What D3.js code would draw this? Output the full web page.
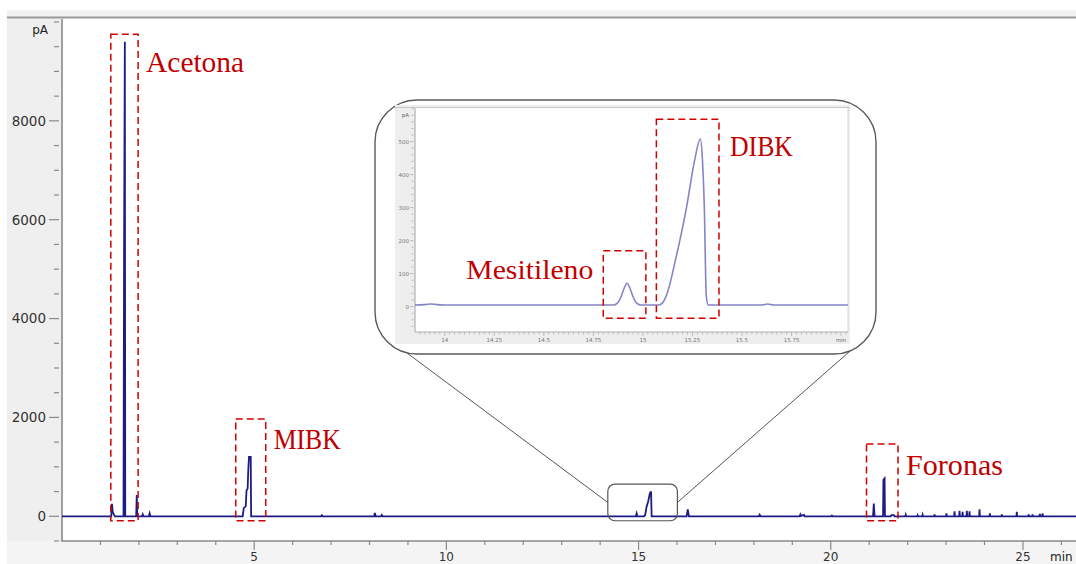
<!DOCTYPE html>
<html>
<head>
<meta charset="utf-8">
<script src="https://cdn.jsdelivr.net/npm/d3@7"></script>
<style>
  html, body { margin: 0; padding: 0; background: #fff; }
  svg { display: block; }
</style>
</head>
<body>
<svg id="chart" width="1076" height="564"></svg>
<script>
// ---- Data ---------------------------------------------------------------
// Full chromatogram: [retention time (min), detector signal (pA)]
const mainTrace = [
  [0, 0], [1.28, 0], [1.30, 250], [1.32, 90], [1.35, 30], [1.38, 0],
  [1.60, 0], [1.615, 5350], [1.635, 9600], [1.645, 0],
  [1.93, 0], [1.945, 430], [1.96, 0],
  [2.08, 0], [2.10, 40], [2.12, 0], [2.26, 0], [2.28, 60], [2.30, 0],
  [4.70, 0], [4.73, 170], [4.78, 200], [4.80, 520], [4.83, 560], [4.845, 910],
  [4.865, 1200], [4.91, 1200], [4.92, 0],
  [6.74, 0], [6.76, 20], [6.78, 0],
  [8.12, 0], [8.14, 70], [8.16, 0], [8.30, 0], [8.32, 25], [8.34, 0],
  [14.93, 0], [14.95, 60], [14.97, 0],
  [15.14, 0], [15.17, 20], [15.21, 200], [15.25, 300], [15.29, 450], [15.31, 490],
  [15.325, 490], [15.34, 0],
  [16.25, 0], [16.28, 140], [16.31, 0],
  [18.13, 0], [18.15, 30], [18.17, 0],
  [19.19, 0], [19.21, 40], [19.23, 10], [19.30, 30], [19.32, 0],
  [20.01, 0], [20.03, 15], [20.05, 0],
  [21.10, 0], [21.12, 260], [21.14, 0],
  [21.36, 0], [21.37, 740], [21.40, 770], [21.41, 0],
  [21.56, 0], [21.58, 25], [21.64, 25], [21.66, 0],
  [21.94, 0], [21.95, 30], [21.96, 0], [22.25, 0], [22.26, 20], [22.27, 0],
  [22.38, 0], [22.39, 30], [22.40, 0], [22.69, 0], [22.70, 40], [22.71, 0],
  [23.00, 0], [23.01, 60], [23.02, 0], [23.21, 0], [23.22, 100], [23.23, 0],
  [23.34, 0], [23.35, 110], [23.36, 0], [23.42, 0], [23.43, 90], [23.44, 0],
  [23.53, 0], [23.54, 110], [23.55, 0], [23.60, 0], [23.61, 100], [23.62, 0],
  [23.86, 0], [23.87, 140], [23.88, 0], [24.13, 0], [24.14, 60], [24.15, 0],
  [24.44, 0], [24.45, 40], [24.46, 0], [24.83, 0], [24.84, 90], [24.85, 0],
  [25.14, 0], [25.15, 40], [25.16, 0], [25.24, 0], [25.25, 40], [25.26, 0],
  [25.43, 0], [25.44, 50], [25.45, 0], [25.50, 0], [25.51, 60], [25.52, 0],
  [26.4, 0]
];
const mainYTicks = [0, 2000, 4000, 6000, 8000];
const mainXTicks = [5, 10, 15, 20, 25];

// Expanded view of the 14–16 min window: [time (min), signal (pA)]
const insetTrace = [
  [13.85, 5], [13.90, 6], [13.93, 8], [13.96, 6], [14.00, 5], [14.85, 5],
  [14.87, 10], [14.89, 30], [14.905, 55], [14.92, 71], [14.935, 55], [14.95, 30],
  [14.97, 10], [14.99, 5], [15.08, 5], [15.10, 12], [15.12, 36], [15.17, 156],
  [15.22, 300], [15.26, 440], [15.29, 508], [15.30, 450], [15.31, 300],
  [15.32, 30], [15.33, 5], [15.60, 5], [15.63, 8], [15.66, 5], [16.035, 5]
];
const insetYTicks = [0, 100, 200, 300, 400, 500];
const insetXTicks = [14, 14.25, 14.5, 14.75, 15, 15.25, 15.5, 15.75];

// Annotated peaks: name, time window (min), signal window (pA)
const mainPeakNames = ["Acetona", "MIBK", "Foronas"];
const mainPeakWindows = [[1.27, 1.98], [4.52, 5.30], [20.93, 21.75]];
const mainPeakBoxTops = [9750, 1970, 1460];
const insetPeakNames = ["Mesitileno", "DIBK"];
const insetPeakWindows = [[14.80, 15.015], [15.068, 15.384]];
const insetPeakBoxTops = [169, 568];

// Region of the full run shown in the expanded view
const zoomWindow = [14.20, 16.01];
const zoomSignal = [-90, 650];

// ---- Layout -------------------------------------------------------------
const svg = d3.select("#chart");
const W = 1076, H = 564;
const plot = { left: 62, right: 1076, top: 22, bottom: 541 };

const x = d3.scaleLinear().domain([0, 26.38]).range([plot.left, plot.right]);
const y = d3.scaleLinear().domain([-500, 10000]).range([plot.bottom, plot.top]);

const navy = "#1c1c86";
const red = "#d10000";
const axisGrey = "#8a8a8a";
const labelGrey = "#333";

// Window frame
svg.append("rect").attr("x", 0).attr("y", 0).attr("width", W).attr("height", H).attr("fill", "#fff");
svg.append("rect").attr("x", 7).attr("y", 10).attr("width", W - 7).attr("height", 7).attr("fill", "#f1f1f1");
svg.append("rect").attr("x", 7).attr("y", 17).attr("width", plot.left - 7).attr("height", H - 17).attr("fill", "#efefef");
svg.append("rect").attr("x", 7).attr("y", plot.bottom).attr("width", W - 7).attr("height", H - plot.bottom).attr("fill", "#f4f4f4");
svg.append("line").attr("x1", 7).attr("x2", W).attr("y1", 17.5).attr("y2", 17.5)
  .attr("stroke", "#9a9a9a").attr("stroke-width", 2);

// Y axis
svg.append("line").attr("x1", plot.left).attr("x2", plot.left)
  .attr("y1", 19).attr("y2", plot.bottom)
  .attr("stroke", "#a0a0a0").attr("stroke-width", 2);
const yMinor = d3.range(-500, 10001, 500);
svg.append("g").selectAll("line").data(yMinor).join("line")
  .attr("x1", d => mainYTicks.includes(d) ? 49 : 54).attr("x2", 59)
  .attr("y1", d => y(d)).attr("y2", d => y(d))
  .attr("stroke", axisGrey).attr("stroke-width", 1.2);
svg.append("g").selectAll("text").data(mainYTicks).join("text")
  .attr("x", 46).attr("y", d => y(d)).attr("dy", "0.36em")
  .attr("text-anchor", "end")
  .attr("font-family", "DejaVu Sans, sans-serif").attr("font-size", 13.5)
  .attr("fill", labelGrey).text(d => d);
svg.append("text").attr("x", 48).attr("y", 34).attr("text-anchor", "end")
  .attr("font-family", "DejaVu Sans, sans-serif").attr("font-size", 12)
  .attr("fill", "#222").text("pA");

// X axis
svg.append("line").attr("x1", plot.left - 1).attr("x2", W)
  .attr("y1", plot.bottom).attr("y2", plot.bottom)
  .attr("stroke", axisGrey).attr("stroke-width", 1.5);
const xMinor = d3.range(1, 27, 1);
svg.append("g").selectAll("line").data(xMinor).join("line")
  .attr("x1", d => x(d)).attr("x2", d => x(d))
  .attr("y1", plot.bottom).attr("y2", d => mainXTicks.includes(d) ? 550 : 545)
  .attr("stroke", axisGrey).attr("stroke-width", 1.2);
svg.append("g").selectAll("text").data(mainXTicks).join("text")
  .attr("x", d => x(d)).attr("y", 560.5).attr("text-anchor", "middle")
  .attr("font-family", "DejaVu Sans, sans-serif").attr("font-size", 12)
  .attr("fill", labelGrey).text(d => d);
svg.append("text").attr("x", 1050).attr("y", 560.5)
  .attr("font-family", "DejaVu Sans, sans-serif").attr("font-size", 12)
  .attr("fill", "#222").text("min");

// Chromatogram
const mainLine = d3.line().x(d => x(d[0])).y(d => y(d[1]));
svg.append("path").datum(mainTrace).attr("d", mainLine)
  .attr("fill", "none").attr("stroke", navy).attr("stroke-width", 1.8)
  .attr("stroke-linejoin", "miter");

// Dashed boxes and names for the main peaks
const boxBottom = -90;
const mainLabelOffsets = [38, 30, 31];
const mainLabelWidths = [98, 67, 97];
mainPeakNames.forEach((name, i) => {
  const [t0, t1] = mainPeakWindows[i];
  const top = y(mainPeakBoxTops[i]);
  svg.append("rect")
    .attr("x", x(t0)).attr("y", top)
    .attr("width", x(t1) - x(t0)).attr("height", y(boxBottom) - top)
    .attr("fill", "none").attr("stroke", red).attr("stroke-width", 1.5)
    .attr("stroke-dasharray", "7,4");
  svg.append("text")
    .attr("x", x(t1) + 8).attr("y", top + mainLabelOffsets[i])
    .attr("font-family", "Liberation Serif, serif").attr("font-size", 29)
    .attr("textLength", mainLabelWidths[i]).attr("lengthAdjust", "spacingAndGlyphs")
    .attr("fill", "#c00000").text(name);
});

// Small frame marking the expanded region
const zx0 = x(zoomWindow[0]), zx1 = x(zoomWindow[1]);
const zy0 = y(zoomSignal[1]), zy1 = y(zoomSignal[0]);
svg.append("rect").attr("x", zx0).attr("y", zy0)
  .attr("width", zx1 - zx0).attr("height", zy1 - zy0)
  .attr("rx", 7).attr("ry", 7)
  .attr("fill", "none").attr("stroke", "#555").attr("stroke-width", 1.2);

// Expanded view panel
const inset = { x: 375, y: 100, w: 501, h: 254, r: 42 };
const zMid = (zy0 + zy1) / 2;
svg.append("line").attr("x1", zx0).attr("y1", zMid)
  .attr("x2", inset.x + 32).attr("y2", inset.y + inset.h - 1)
  .attr("stroke", "#555").attr("stroke-width", 1);
svg.append("line").attr("x1", zx1).attr("y1", zMid)
  .attr("x2", inset.x + inset.w - 27).attr("y2", inset.y + inset.h - 2)
  .attr("stroke", "#555").attr("stroke-width", 1);
svg.append("rect").attr("x", inset.x).attr("y", inset.y)
  .attr("width", inset.w).attr("height", inset.h)
  .attr("rx", inset.r).attr("ry", inset.r)
  .attr("fill", "#fff").attr("stroke", "#5a5a5a").attr("stroke-width", 1.4);

const ip = { left: 415, right: 848, top: 108, bottom: 332 };
const ix = d3.scaleLinear().domain([13.85, 16.035]).range([ip.left, ip.right]);
const iy = d3.scaleLinear().domain([-77, 602]).range([ip.bottom, ip.top]);

// Inset chart frame
svg.append("rect").attr("x", 395).attr("y", 105).attr("width", 455).attr("height", 239).attr("fill", "#eeeeee");
svg.append("rect").attr("x", ip.left).attr("y", ip.top).attr("width", ip.right - ip.left)
  .attr("height", ip.bottom - ip.top).attr("fill", "#fff");
svg.append("line").attr("x1", 395).attr("x2", 850).attr("y1", ip.top - 0.5).attr("y2", ip.top - 0.5)
  .attr("stroke", "#c8c8c8").attr("stroke-width", 1.2);
svg.append("line").attr("x1", ip.right).attr("x2", ip.right).attr("y1", ip.top).attr("y2", ip.bottom)
  .attr("stroke", "#d8d8d8").attr("stroke-width", 1);
svg.append("line").attr("x1", ip.left).attr("x2", ip.left).attr("y1", ip.top).attr("y2", ip.bottom)
  .attr("stroke", "#b0b0b0").attr("stroke-width", 1.2);
svg.append("line").attr("x1", ip.left).attr("x2", ip.right).attr("y1", ip.bottom).attr("y2", ip.bottom)
  .attr("stroke", "#b0b0b0").attr("stroke-width", 1.2);

const iyMinor = d3.range(-60, 601, 20);
svg.append("g").selectAll("line").data(iyMinor).join("line")
  .attr("x1", d => insetYTicks.includes(d) ? 410 : 411.5).attr("x2", 413.5)
  .attr("y1", d => iy(d)).attr("y2", d => iy(d))
  .attr("stroke", "#aaa").attr("stroke-width", 0.8);
svg.append("g").selectAll("text").data(insetYTicks).join("text")
  .attr("x", 409).attr("y", d => iy(d)).attr("dy", "0.35em").attr("text-anchor", "end")
  .attr("font-family", "DejaVu Sans, sans-serif").attr("font-size", 5.5)
  .attr("fill", "#777").text(d => d);
svg.append("text").attr("x", 409).attr("y", 117).attr("text-anchor", "end")
  .attr("font-family", "DejaVu Sans, sans-serif").attr("font-size", 5.5)
  .attr("fill", "#666").text("pA");

const ixMinor = d3.range(13.875, 16.03, 0.025);
svg.append("g").selectAll("line").data(ixMinor).join("line")
  .attr("x1", d => ix(d)).attr("x2", d => ix(d))
  .attr("y1", ip.bottom).attr("y2", d => Math.abs(d * 4 - Math.round(d * 4)) < 1e-6 ? ip.bottom + 4 : ip.bottom + 2.5)
  .attr("stroke", "#aaa").attr("stroke-width", 0.7);
svg.append("g").selectAll("text").data(insetXTicks).join("text")
  .attr("x", d => ix(d)).attr("y", 341.5).attr("text-anchor", "middle")
  .attr("font-family", "DejaVu Sans, sans-serif").attr("font-size", 5.5)
  .attr("fill", "#777").text(d => d);
svg.append("text").attr("x", ix(16)).attr("y", 341.5).attr("text-anchor", "middle")
  .attr("font-family", "DejaVu Sans, sans-serif").attr("font-size", 5.5)
  .attr("fill", "#666").text("min");

// Inset chromatogram
const insetLine = d3.line().x(d => ix(d[0])).y(d => iy(d[1])).curve(d3.curveMonotoneX);
svg.append("path").datum(insetTrace).attr("d", insetLine)
  .attr("fill", "none").attr("stroke", "#8585c4").attr("stroke-width", 1.6);

// Dashed boxes and names for the expanded peaks
const insetBoxBottom = -35;
insetPeakNames.forEach((name, i) => {
  const [t0, t1] = insetPeakWindows[i];
  const top = iy(insetPeakBoxTops[i]);
  svg.append("rect")
    .attr("x", ix(t0)).attr("y", top)
    .attr("width", ix(t1) - ix(t0)).attr("height", iy(insetBoxBottom) - top)
    .attr("fill", "none").attr("stroke", red).attr("stroke-width", 1.5)
    .attr("stroke-dasharray", "7,4");
});
svg.append("text")
  .attr("x", ix(insetPeakWindows[0][0]) - 10).attr("y", iy(insetPeakBoxTops[0]) + 28)
  .attr("text-anchor", "end")
  .attr("font-family", "Liberation Serif, serif").attr("font-size", 28)
  .attr("textLength", 127).attr("lengthAdjust", "spacingAndGlyphs")
  .attr("fill", "#c00000").text(insetPeakNames[0]);
svg.append("text")
  .attr("x", ix(insetPeakWindows[1][1]) + 11).attr("y", iy(insetPeakBoxTops[1]) + 37)
  .attr("font-family", "Liberation Serif, serif").attr("font-size", 30)
  .attr("textLength", 63).attr("lengthAdjust", "spacingAndGlyphs")
  .attr("fill", "#c00000").text(insetPeakNames[1]);
</script>
</body>
</html>
